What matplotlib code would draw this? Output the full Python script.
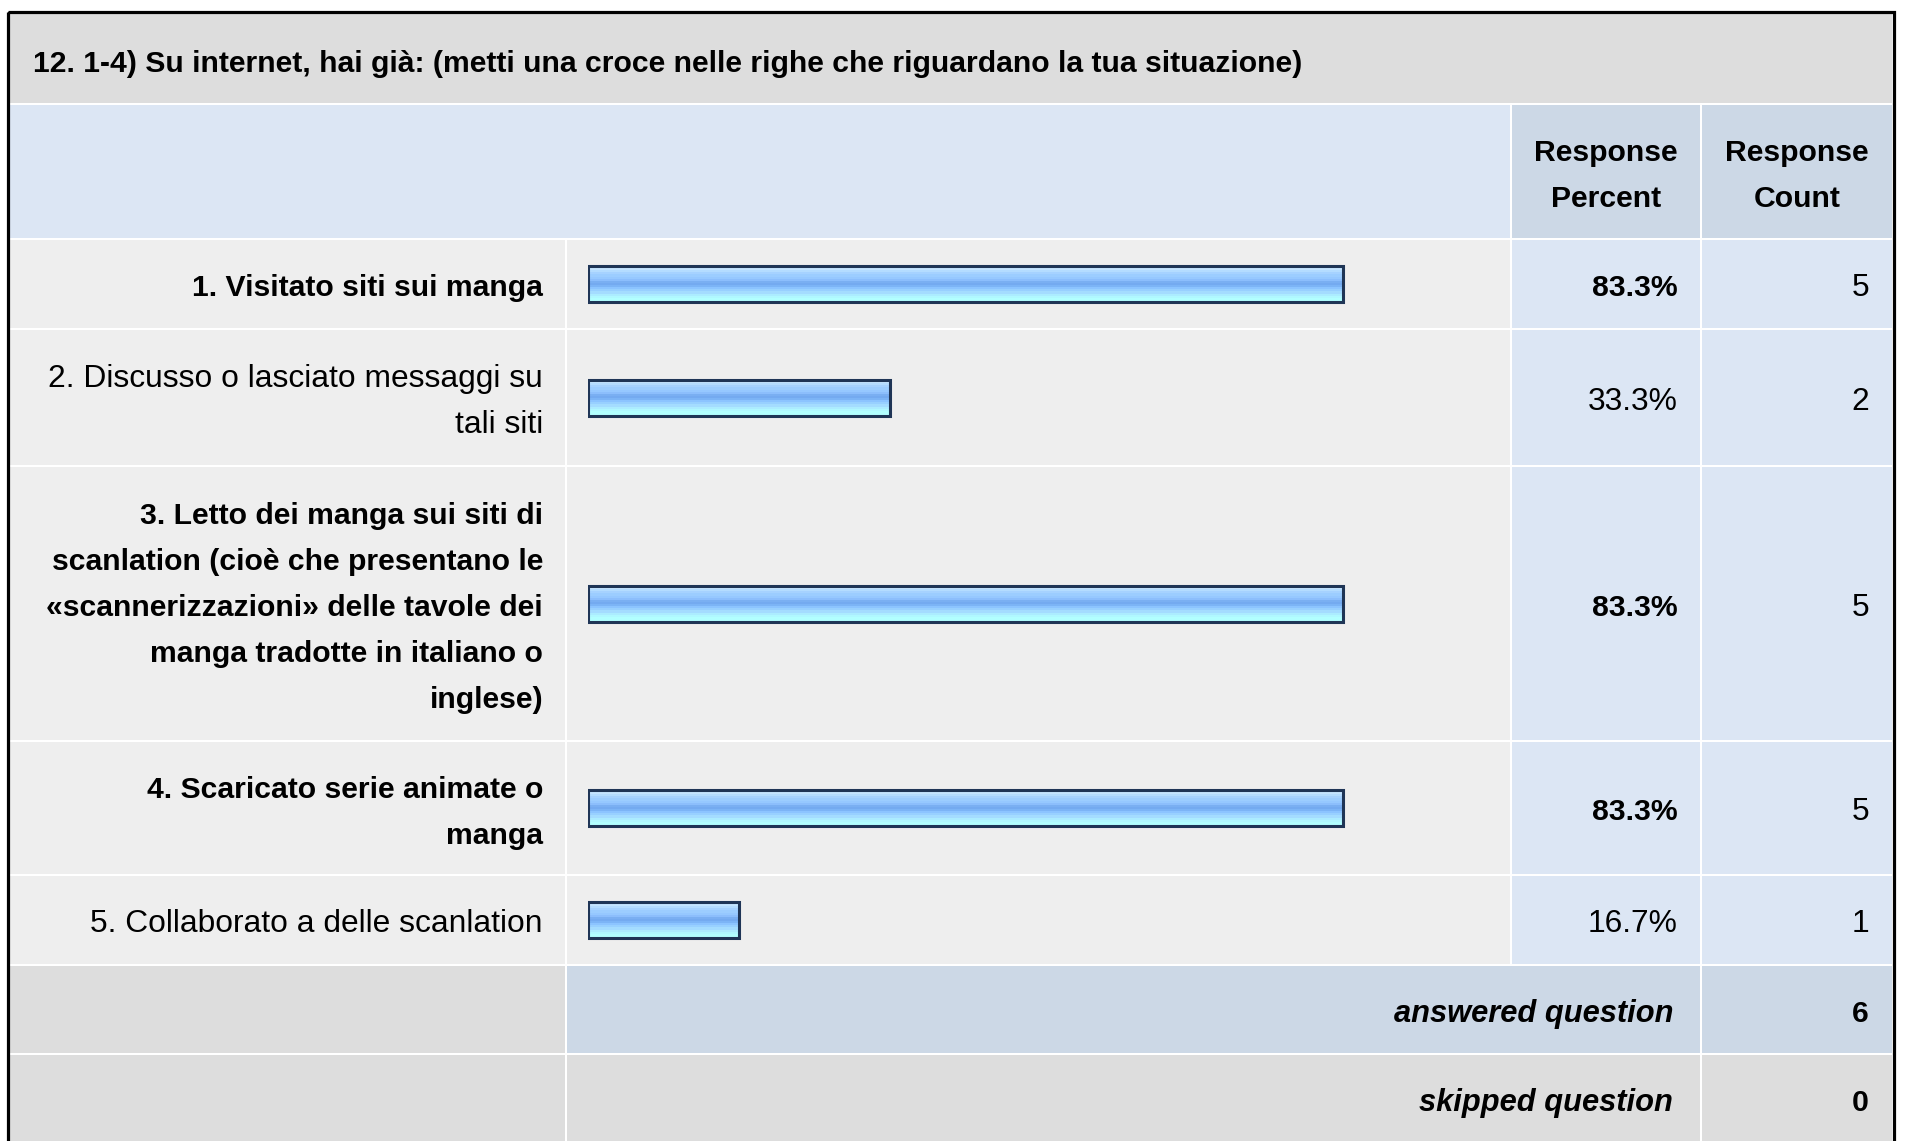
import matplotlib.pyplot as plt
import numpy as np
from matplotlib.patches import Rectangle
from matplotlib.colors import to_rgb

plt.rcParams['font.family'] = ['Liberation Sans', 'DejaVu Sans']

title = "12. 1-4) Su internet, hai già: (metti una croce nelle righe che riguardano la tua situazione)"
categories = [
    "1. Visitato siti sui manga",
    "2. Discusso o lasciato messaggi su\ntali siti",
    "3. Letto dei manga sui siti di\nscanlation (cioè che presentano le\n«scannerizzazioni» delle tavole dei\nmanga tradotte in italiano o\ninglese)",
    "4. Scaricato serie animate o\nmanga",
    "5. Collaborato a delle scanlation",
]
percents = [83.3, 33.3, 83.3, 83.3, 16.7]
counts = [5, 2, 5, 5, 1]
answered = 6
skipped = 0
bold_rows = [True, False, True, True, False]

W, H = 1907, 1141
fig = plt.figure(figsize=(W / 100, H / 100), dpi=100)
ax = fig.add_axes([0, 0, 1, 1])
ax.set_xlim(0, W)
ax.set_ylim(H, 0)
ax.axis('off')

# layout in pixels
cols = [9, 566, 1511, 1701, 1893]
row_edges = [239, 329, 466, 741, 875, 965]
ans_edges = (965, 1054)
skip_edges = (1054, 1160)
fs_b = 21.7
fs_r = 22.9
fs_bi = 22.2
line_h = 46
cap = 12.5

grey = '#dddddd'
light = '#eeeeee'
blue = '#dce6f4'
blue2 = '#ccd8e6'


def cell(x0, x1, y0, y1, color):
    ax.add_patch(Rectangle((x0 + 1, y0 + 1), x1 - x0 - 2, y1 - y0 - 2,
                           facecolor=color, edgecolor='none', zorder=1))


ax.add_patch(Rectangle((cols[0], 12), cols[-1] - cols[0], H, facecolor='white',
                       edgecolor='none', zorder=0))

# title and header
cell(cols[0], cols[-1], 12, 104, grey)
ax.text(33, 72, title, fontsize=fs_b, fontweight='bold', va='baseline', ha='left', zorder=5)
cell(cols[0], cols[2], 104, row_edges[0], blue)
cell(cols[2], cols[3], 104, row_edges[0], blue2)
cell(cols[3], cols[4], 104, row_edges[0], blue2)
hc = (104 + row_edges[0]) / 2
for ci, word in [(2, "Percent"), (3, "Count")]:
    xc = (cols[ci] + cols[ci + 1]) / 2
    ax.text(xc, hc - line_h / 2 + cap, "Response", fontsize=fs_b, fontweight='bold',
            ha='center', va='baseline', zorder=5)
    ax.text(xc, hc + line_h / 2 + cap, word, fontsize=fs_b, fontweight='bold',
            ha='center', va='baseline', zorder=5)

centers = []
for i, lab in enumerate(categories):
    y0, y1 = row_edges[i], row_edges[i + 1]
    yc = (y0 + y1) / 2
    centers.append(yc)
    cell(cols[0], cols[1], y0, y1, light)
    cell(cols[1], cols[2], y0, y1, light)
    cell(cols[2], cols[3], y0, y1, blue)
    cell(cols[3], cols[4], y0, y1, blue)
    w = 'bold' if bold_rows[i] else 'normal'
    fs = fs_b if bold_rows[i] else fs_r
    lines = lab.split("\n")
    n = len(lines)
    for k, ln in enumerate(lines):
        ax.text(543, yc + (k - (n - 1) / 2) * line_h + cap, ln, fontsize=fs, fontweight=w,
                ha='right', va='baseline', zorder=5)
    ax.text(1678, yc + cap, f"{percents[i]:.1f}%", fontsize=fs, fontweight=w,
            ha='right', va='baseline', zorder=5)
    ax.text(1869, yc + cap, str(counts[i]), fontsize=fs_r,
            ha='right', va='baseline', zorder=5)

# answered / skipped
for (y0, y1), txt, val, c1 in [(ans_edges, "answered question", answered, blue2),
                               (skip_edges, "skipped question", skipped, grey)]:
    yc = (y0 + y1) / 2
    if y1 > H:
        yc = y0 + (ans_edges[1] - ans_edges[0]) / 2
    cell(cols[0], cols[1], y0, y1, grey)
    cell(cols[1], cols[3], y0, y1, c1)
    cell(cols[3], cols[4], y0, y1, c1)
    ax.text(1673, yc + cap, txt, fontsize=fs_bi, fontweight='bold', fontstyle='italic',
            ha='right', va='baseline', zorder=5)
    ax.text(1869, yc + cap, str(val), fontsize=fs_b, fontweight='bold',
            ha='right', va='baseline', zorder=5)

# outer frame
ax.add_patch(Rectangle((7.5, 11.5), 1886, 1300, facecolor='none', edgecolor='black',
                       linewidth=2.3, zorder=6))

# bars
bax = fig.add_axes([588 / W, 0, 906 / W, 1])
bax.patch.set_alpha(0)
stripes = ['#d4ecff', '#c4e4ff', '#b4dcff', '#a6d2ff', '#9ccdff', '#96c8ff', '#8cbefc',
           '#7aaff2', '#74aaf0', '#7cb4f6', '#8cc4ff', '#98d0ff', '#a4dcff', '#acecff',
           '#b0f8ff', '#b2ffff', '#b2ffff']
grad = np.array([[to_rgb(c)] for c in stripes])
bh = 36
bars = bax.barh(centers, percents, height=bh, facecolor='none', edgecolor='#1f3556',
                linewidth=2.2, zorder=3)
for b, p, yc in zip(bars, percents, centers):
    im = bax.imshow(grad, extent=(0, p, yc + bh / 2, yc - bh / 2), aspect='auto',
                    interpolation='nearest', zorder=2)
    im.set_clip_path(b)
bax.set_xlim(0, 100)
bax.set_ylim(H, 0)
bax.axis('off')

fig.savefig('out.png', dpi=100)
